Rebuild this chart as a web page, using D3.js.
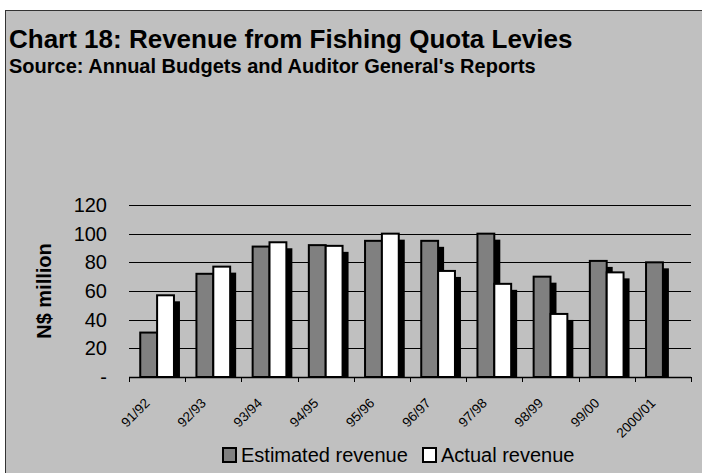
<!DOCTYPE html>
<html>
<head>
<meta charset="utf-8">
<script src="https://cdn.jsdelivr.net/npm/d3@7"></script>
<style>
  html, body { margin: 0; padding: 0; background: #ffffff; }
  svg { display: block; }
  text { font-family: "Liberation Sans", Arial, sans-serif; fill: #000; }
</style>
</head>
<body>
<svg id="chart" width="702" height="473"></svg>
<script>
// Fiscal years on the category axis
const years = ["91/92", "92/93", "93/94", "94/95", "95/96", "96/97", "97/98", "98/99", "99/00", "2000/01"];
// Revenue in N$ million (no actual figure yet for 2000/01)
const estimatedRevenue = [31, 72, 91, 92, 95, 95, 100, 70, 81, 80];
const actualRevenue = [57, 77, 94, 91.5, 100, 74, 65, 44, 73, null];
const seriesNames = ["Estimated revenue", "Actual revenue"];
const seriesFills = ["#808080", "#ffffff"];
const yTicks = [0, 20, 40, 60, 80, 100, 120];

const svg = d3.select("#chart");
const W = 702, H = 473;

// Grey chart frame with a dark border on the top and left
svg.append("rect")
  .attr("x", 5.5).attr("y", 10.5)
  .attr("width", W + 10).attr("height", H + 10)
  .attr("fill", "#c0c0c0")
  .attr("stroke", "#333").attr("stroke-width", 1);

svg.append("text")
  .attr("x", 9).attr("y", 48)
  .attr("font-size", 26).attr("font-weight", "bold")
  .text("Chart 18: Revenue from Fishing Quota Levies");
svg.append("text")
  .attr("x", 9).attr("y", 73)
  .attr("font-size", 20).attr("font-weight", "bold")
  .text("Source: Annual Budgets and Auditor General's Reports");

const plot = { left: 129, right: 691, top: 205, bottom: 377 };

const x0 = d3.scaleBand()
  .domain(years)
  .range([plot.left, plot.right])
  .paddingInner(0.4)
  .paddingOuter(0.2);
const x1 = d3.scaleBand()
  .domain(seriesNames)
  .range([0, x0.bandwidth()]);
const y = d3.scaleLinear()
  .domain([0, 120])
  .range([plot.bottom, plot.top]);

// Horizontal gridlines
svg.append("g")
  .selectAll("line")
  .data(yTicks.filter(d => d > 0))
  .join("line")
  .attr("x1", plot.left).attr("x2", plot.right)
  .attr("y1", d => Math.round(y(d)) + 0.5)
  .attr("y2", d => Math.round(y(d)) + 0.5)
  .attr("stroke", "#000").attr("stroke-width", 1);

// Y axis labels (zero shown as a dash)
svg.append("g")
  .selectAll("text")
  .data(yTicks)
  .join("text")
  .attr("x", 107)
  .attr("y", d => y(d) + 7)
  .attr("text-anchor", "end")
  .attr("font-size", 20)
  .text(d => d === 0 ? "-" : d);

svg.append("text")
  .attr("transform", `translate(51,${(plot.top + plot.bottom) / 2}) rotate(-90)`)
  .attr("text-anchor", "middle")
  .attr("font-size", 20).attr("font-weight", "bold")
  .text("N$ million");

// Bars with a black drop shadow
const shadowOffset = 6;
const rows = [];
years.forEach((yr, i) => {
  [estimatedRevenue[i], actualRevenue[i]].forEach((v, s) => {
    if (v != null) rows.push({ year: yr, series: seriesNames[s], fill: seriesFills[s], value: v });
  });
});

const bars = svg.append("g");
rows.forEach(d => {
  const bx = x0(d.year) + x1(d.series);
  const bw = x1.bandwidth();
  const by = y(d.value);
  const bh = y(0) - by;
  bars.append("rect")
    .attr("x", bx + shadowOffset).attr("y", by + shadowOffset)
    .attr("width", bw).attr("height", Math.max(0, bh - shadowOffset))
    .attr("fill", "#000");
  bars.append("rect")
    .attr("x", bx).attr("y", by)
    .attr("width", bw).attr("height", bh)
    .attr("fill", d.fill)
    .attr("stroke", "#000").attr("stroke-width", 2);
});

// X axis line with tick marks between categories
const xAxis = svg.append("g");
xAxis.append("line")
  .attr("x1", plot.left).attr("x2", plot.right)
  .attr("y1", plot.bottom + 0.5).attr("y2", plot.bottom + 0.5)
  .attr("stroke", "#000").attr("stroke-width", 1.5);
const tickXs = years.map(yr => x0(yr) - x0.step() * x0.paddingOuter())
  .concat([plot.right]);
xAxis.selectAll("line.tick")
  .data(tickXs)
  .join("line")
  .attr("class", "tick")
  .attr("x1", d => Math.round(d) + 0.5).attr("x2", d => Math.round(d) + 0.5)
  .attr("y1", plot.bottom).attr("y2", plot.bottom + 5)
  .attr("stroke", "#000").attr("stroke-width", 1);

xAxis.selectAll("text")
  .data(years)
  .join("text")
  .attr("transform", d => `translate(${x0(d) + x0.bandwidth() / 2 - 6.5},${plot.bottom + 27}) rotate(-45)`)
  .attr("text-anchor", "end")
  .attr("font-size", 13.5)
  .text(d => d);

// Legend
const legend = svg.append("g");
const legendItems = [
  { name: seriesNames[0], fill: seriesFills[0], x: 222 },
  { name: seriesNames[1], fill: seriesFills[1], x: 422 }
];
legendItems.forEach(it => {
  legend.append("rect")
    .attr("x", it.x + 1).attr("y", 448)
    .attr("width", 13).attr("height", 14)
    .attr("fill", it.fill)
    .attr("stroke", "#000").attr("stroke-width", 2);
  legend.append("text")
    .attr("x", it.x + 19).attr("y", 462)
    .attr("font-size", 20)
    .text(it.name);
});
</script>
</body>
</html>
